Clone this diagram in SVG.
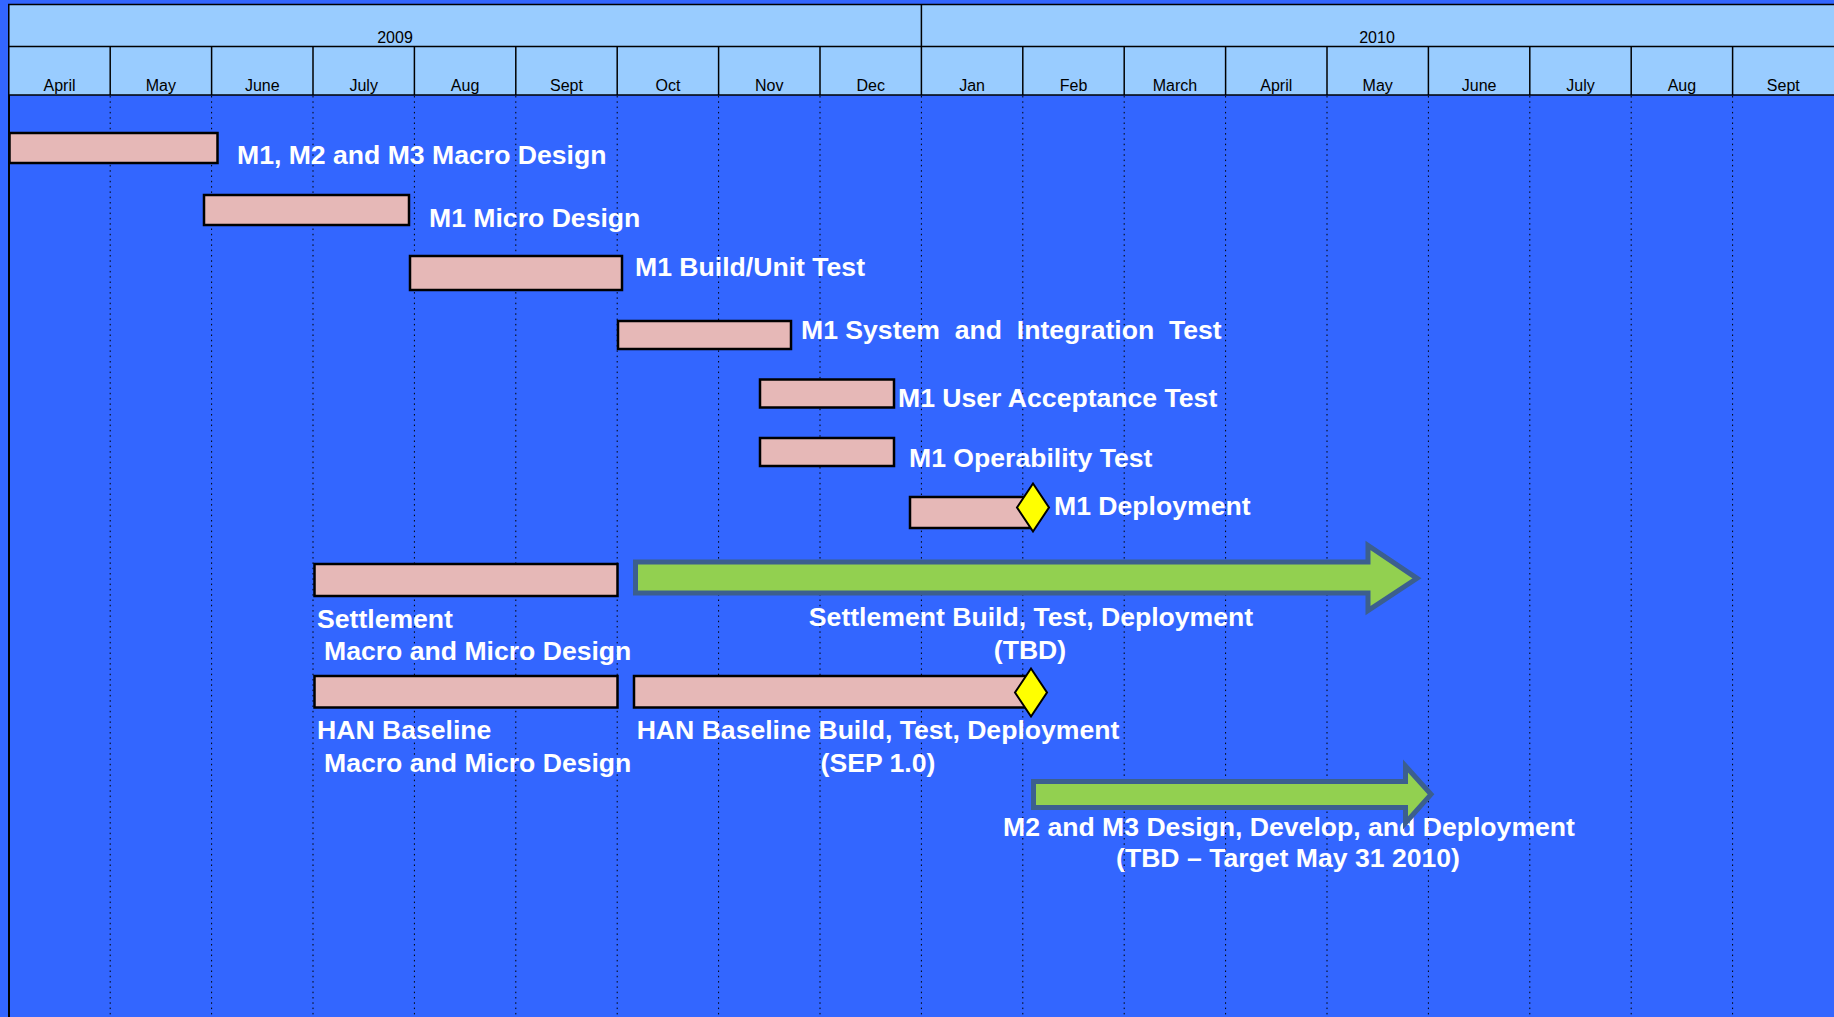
<svg xmlns="http://www.w3.org/2000/svg" width="1834" height="1017" viewBox="0 0 1834 1017">
<style>
.hdr{fill:#99CCFF;stroke:#000;stroke-width:1.5}
.hl{stroke:#000;stroke-width:1.5}
.grid{stroke:#000;stroke-width:1;stroke-dasharray:1.5 3.8}
.yr,.mo{font-family:"Liberation Sans",Arial,sans-serif;font-size:16px;fill:#000;text-anchor:middle}
.bar{fill:#E6B8B7;stroke:#000;stroke-width:2.5}
.dia{fill:#FFFF00;stroke:#000;stroke-width:2}
.arr{fill:#92D050;stroke:#3C5F8E;stroke-width:5;stroke-linejoin:miter;stroke-miterlimit:10}
.lbl{font-family:"Liberation Sans",Arial,sans-serif;font-size:26.6px;font-weight:bold;fill:#fff;white-space:pre}
.mid{text-anchor:middle}
</style>
<rect x="0" y="0" width="1834" height="1017" fill="#3366FF"/>
<g id="grid">
<line class="grid" x1="110.2" y1="96" x2="110.2" y2="1017"/>
<line class="grid" x1="211.6" y1="96" x2="211.6" y2="1017"/>
<line class="grid" x1="313" y1="96" x2="313" y2="1017"/>
<line class="grid" x1="414.4" y1="96" x2="414.4" y2="1017"/>
<line class="grid" x1="515.8" y1="96" x2="515.8" y2="1017"/>
<line class="grid" x1="617.2" y1="96" x2="617.2" y2="1017"/>
<line class="grid" x1="718.6" y1="96" x2="718.6" y2="1017"/>
<line class="grid" x1="820" y1="96" x2="820" y2="1017"/>
<line class="grid" x1="921.4" y1="96" x2="921.4" y2="1017"/>
<line class="grid" x1="1022.8" y1="96" x2="1022.8" y2="1017"/>
<line class="grid" x1="1124.2" y1="96" x2="1124.2" y2="1017"/>
<line class="grid" x1="1225.6" y1="96" x2="1225.6" y2="1017"/>
<line class="grid" x1="1327" y1="96" x2="1327" y2="1017"/>
<line class="grid" x1="1428.4" y1="96" x2="1428.4" y2="1017"/>
<line class="grid" x1="1529.8" y1="96" x2="1529.8" y2="1017"/>
<line class="grid" x1="1631.2" y1="96" x2="1631.2" y2="1017"/>
<line class="grid" x1="1732.6" y1="96" x2="1732.6" y2="1017"/>
<line x1="9" y1="4" x2="9" y2="1017" stroke="#000" stroke-width="2"/>
</g>
<g id="header">
<rect class="hdr" x="8.8" y="4.5" width="1830" height="90.5"/>
<line class="hl" x1="8.8" y1="46.5" x2="1834" y2="46.5"/>
<line class="hl" x1="921.4" y1="4.5" x2="921.4" y2="95"/>
<line class="hl" x1="110.2" y1="46.5" x2="110.2" y2="95"/>
<line class="hl" x1="211.6" y1="46.5" x2="211.6" y2="95"/>
<line class="hl" x1="313" y1="46.5" x2="313" y2="95"/>
<line class="hl" x1="414.4" y1="46.5" x2="414.4" y2="95"/>
<line class="hl" x1="515.8" y1="46.5" x2="515.8" y2="95"/>
<line class="hl" x1="617.2" y1="46.5" x2="617.2" y2="95"/>
<line class="hl" x1="718.6" y1="46.5" x2="718.6" y2="95"/>
<line class="hl" x1="820" y1="46.5" x2="820" y2="95"/>
<line class="hl" x1="1022.8" y1="46.5" x2="1022.8" y2="95"/>
<line class="hl" x1="1124.2" y1="46.5" x2="1124.2" y2="95"/>
<line class="hl" x1="1225.6" y1="46.5" x2="1225.6" y2="95"/>
<line class="hl" x1="1327" y1="46.5" x2="1327" y2="95"/>
<line class="hl" x1="1428.4" y1="46.5" x2="1428.4" y2="95"/>
<line class="hl" x1="1529.8" y1="46.5" x2="1529.8" y2="95"/>
<line class="hl" x1="1631.2" y1="46.5" x2="1631.2" y2="95"/>
<line class="hl" x1="1732.6" y1="46.5" x2="1732.6" y2="95"/>
<text class="yr" x="395" y="43">2009</text>
<text class="yr" x="1377" y="43">2010</text>
<text class="mo" x="59.5" y="91">April</text>
<text class="mo" x="160.9" y="91">May</text>
<text class="mo" x="262.3" y="91">June</text>
<text class="mo" x="363.7" y="91">July</text>
<text class="mo" x="465.1" y="91">Aug</text>
<text class="mo" x="566.5" y="91">Sept</text>
<text class="mo" x="667.9" y="91">Oct</text>
<text class="mo" x="769.3" y="91">Nov</text>
<text class="mo" x="870.7" y="91">Dec</text>
<text class="mo" x="972.1" y="91">Jan</text>
<text class="mo" x="1073.5" y="91">Feb</text>
<text class="mo" x="1174.9" y="91">March</text>
<text class="mo" x="1276.3" y="91">April</text>
<text class="mo" x="1377.7" y="91">May</text>
<text class="mo" x="1479.1" y="91">June</text>
<text class="mo" x="1580.5" y="91">July</text>
<text class="mo" x="1681.9" y="91">Aug</text>
<text class="mo" x="1783.3" y="91">Sept</text>
</g>
<g id="connectors"></g>
<g id="task-macro-design">
<rect class="bar" x="9.5" y="133" width="208" height="30"/>
<text class="lbl" x="237" y="164">M1, M2 and M3 Macro Design</text>
</g>
<g id="task-m1-micro-design">
<rect class="bar" x="204" y="195" width="205" height="30"/>
<text class="lbl" x="429" y="227">M1 Micro Design</text>
</g>
<g id="task-m1-build">
<rect class="bar" x="410" y="256" width="212" height="34"/>
<text class="lbl" x="635" y="276">M1 Build/Unit Test</text>
</g>
<g id="task-m1-sit">
<rect class="bar" x="618" y="321" width="173" height="28"/>
<text class="lbl" x="801" y="339" xml:space="preserve">M1 System  and  Integration  Test</text>
</g>
<g id="task-m1-uat">
<rect class="bar" x="760" y="379.5" width="134" height="28"/>
<text class="lbl" x="898" y="407">M1 User Acceptance Test</text>
</g>
<g id="task-m1-operability">
<rect class="bar" x="760" y="438" width="134" height="28"/>
<text class="lbl" x="909" y="466.5">M1 Operability Test</text>
</g>
<g id="task-m1-deployment">
<rect class="bar" x="910" y="497" width="120" height="31"/>
<polygon class="dia" points="1033,483.5 1049,507.5 1033,531.5 1017,507.5"/>
<text class="lbl" x="1054" y="515">M1 Deployment</text>
</g>
<g id="task-settlement-design">
<rect class="bar" x="314.5" y="564" width="303" height="32"/>
<text class="lbl" x="317" y="627.5">Settlement</text>
<text class="lbl" x="324" y="659.5">Macro and Micro Design</text>
</g>
<g id="task-settlement-build">
<path class="arr" d="M635.5,562 H1368 V545.5 L1417,578.3 L1368,610.5 V593 H635.5 Z"/>
<text class="lbl mid" x="1031" y="626">Settlement Build, Test, Deployment</text>
<text class="lbl mid" x="1030" y="659">(TBD)</text>
</g>
<g id="task-han-design">
<rect class="bar" x="314.5" y="676" width="303" height="31.5"/>
<text class="lbl" x="317" y="739">HAN Baseline</text>
<text class="lbl" x="324" y="771.5">Macro and Micro Design</text>
</g>
<g id="task-han-build">
<rect class="bar" x="634" y="676" width="392" height="31.5"/>
<polygon class="dia" points="1031,668.5 1047,692.5 1031,716.5 1015,692.5"/>
<text class="lbl mid" x="878" y="739">HAN Baseline Build, Test, Deployment</text>
<text class="lbl mid" x="878" y="771.5">(SEP 1.0)</text>
</g>
<g id="task-m2-m3">
<text class="lbl mid" x="1289" y="836">M2 and M3 Design, Develop, and Deployment</text>
<text class="lbl mid" x="1288" y="867">(TBD – Target May 31 2010)</text>
<path class="arr" d="M1033.5,781.5 H1405.5 V766 L1431,794.3 L1405.5,823 V807.5 H1033.5 Z"/>
</g>
</svg>
